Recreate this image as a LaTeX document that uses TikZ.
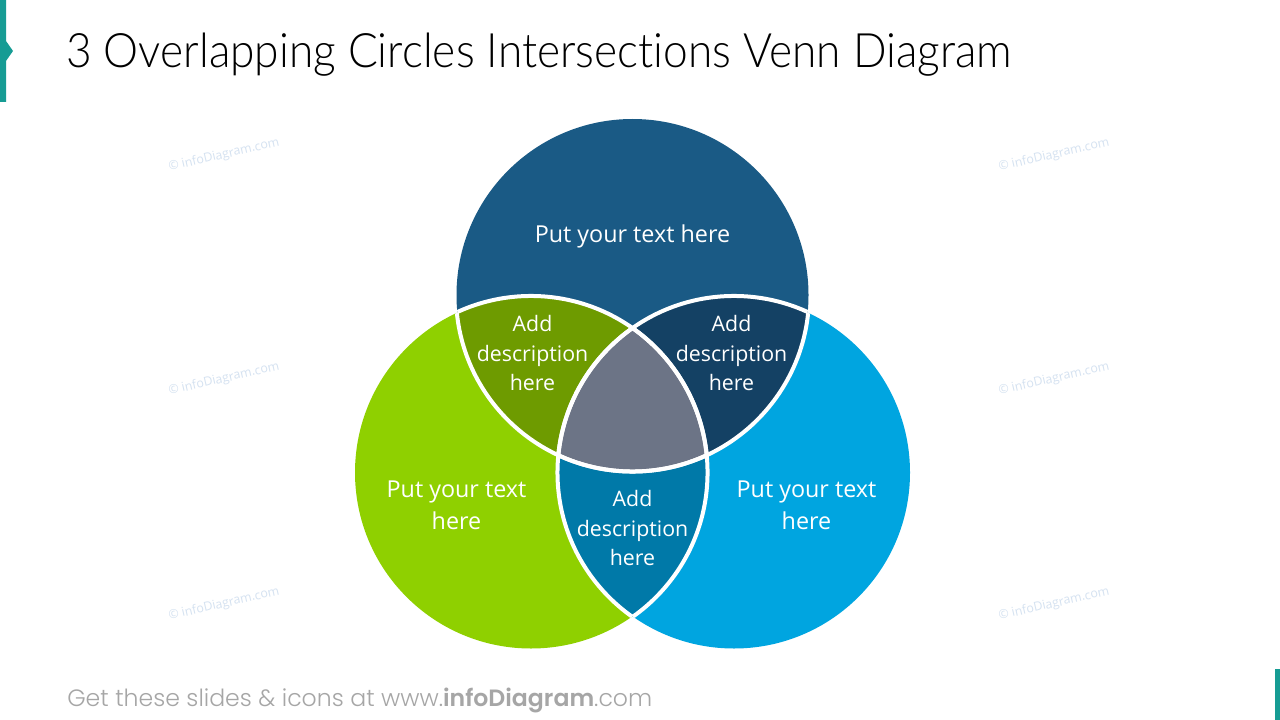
\documentclass[tikz,border=0pt]{standalone}
\usepackage{fontspec}
\setmainfont{Open Sans}
\newfontfamily\titlefont[FakeStretch=0.932,Ligatures={NoCommon,NoRare,NoContextual}]{Lato Light}
\newfontfamily\footfont[BoldFont={Poppins SemiBold}]{Poppins Light}
\definecolor{teal1}{HTML}{169C94}
\definecolor{ctop}{HTML}{1A5A85}
\definecolor{cleft}{HTML}{8FD000}
\definecolor{cright}{HTML}{00A5E0}
\definecolor{ctl}{HTML}{6E9B00}
\definecolor{ctr}{HTML}{144164}
\definecolor{cbot}{HTML}{0079A8}
\definecolor{cmid}{HTML}{6C7486}
\definecolor{wm}{HTML}{D5E2F1}
\definecolor{foot}{HTML}{A6A6A6}
\tikzset{
  x=0.75pt,y=-0.75pt,
  big/.style={text=white,align=center,font=\fontsize{17.5}{24}\selectfont},
  small/.style={text=white,align=center,font=\fontsize{16}{22}\selectfont},
  mark text/.style={text=wm,rotate=13,font=\fontsize{9.3}{11}\selectfont,inner sep=0pt},
  ring/.style={draw=white,line width=3pt}
}
\newcommand{\topc}{(632.5,295) circle[radius=132pt]}
\newcommand{\leftc}{(531,472.5) circle[radius=132pt]}
\newcommand{\rightc}{(734,472.5) circle[radius=132pt]}
\newcommand{\topr}{(632.5,295) circle[radius=132.4pt]}
\newcommand{\leftr}{(531,472.5) circle[radius=132.4pt]}
\newcommand{\rightr}{(734,472.5) circle[radius=132.4pt]}
\begin{document}
\begin{tikzpicture}
\useasboundingbox (0,0) rectangle (1280,720);
\fill[white] (0,0) rectangle (1280,720);
% accents
\fill[teal1] (0,0) -- (6,0) -- (6,41) -- (13,51) -- (6,61) -- (6,102) -- (0,102) -- cycle;
\fill[teal1] (1275,669) rectangle (1280,720);
% watermarks
\foreach \px/\py/\nm in {224/155/a,224/379/b,224/604/c,1054/155/d,1054/379/e,1054/604/f}
  \node[mark text] (wm\nm) at (\px,\py) {© infoDiagram.com};
% circles
\fill[cleft] \leftc;
\fill[cright] \rightc;
\fill[ctop] \topc;
\begin{scope}\clip \topc; \fill[ctl] \leftc; \end{scope}
\begin{scope}\clip \topc; \fill[ctr] \rightc; \end{scope}
\begin{scope}\clip \leftc; \fill[cbot] \rightc; \end{scope}
\begin{scope}\clip \topc; \clip \leftc; \fill[cmid] \rightc; \end{scope}
% white separators: each circle's outline, only where it crosses another circle
\begin{scope}\clip \leftc; \draw[ring] \topr; \draw[ring] \rightr; \end{scope}
\begin{scope}\clip \rightc; \draw[ring] \topr; \draw[ring] \leftr; \end{scope}
\begin{scope}\clip \topc; \draw[ring] \leftr; \draw[ring] \rightr; \end{scope}
% texts
\node[anchor=base west,inner sep=0pt,font=\titlefont\fontsize{35.6}{42}\selectfont] (title) at (66,68) {3 Overlapping Circles Intersections Venn Diagram};
\node[big] (t1) at (632.5,236) {Put your text here};
\node[big] (t2) at (456.5,505) {Put your text\\here};
\node[big] (t3) at (806.5,505) {Put your text\\here};
\node[small] (d1) at (532.5,353) {Add\\description\\here};
\node[small] (d2) at (731.5,353) {Add\\description\\here};
\node[small] (d3) at (632.5,528) {Add\\description\\here};
\node[anchor=base west,inner sep=0pt,text=foot,font=\footfont\fontsize{17.7}{20}\selectfont] (foot) at (67,706) {Get these slides \& icons at www.\textbf{infoDiagram}.com};
\end{tikzpicture}
\end{document}
